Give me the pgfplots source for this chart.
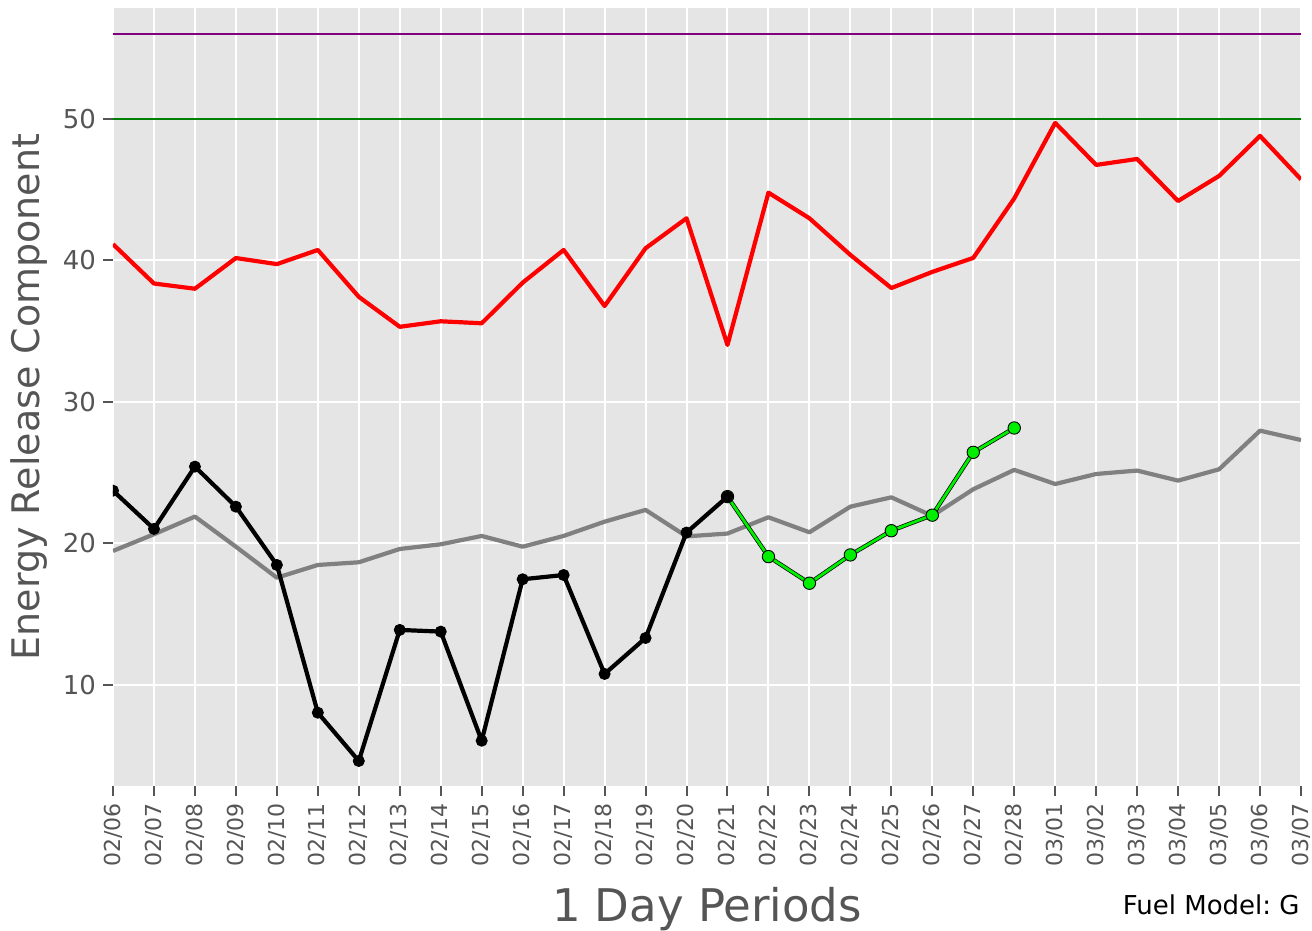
\documentclass[border=0pt]{standalone}
\usepackage{pgfplots}
\pgfplotsset{compat=1.18}
\usepackage{fontspec}
\setmainfont{DejaVu Sans}
\frenchspacing
\definecolor{bgc}{HTML}{E5E5E5}
\definecolor{txtg}{HTML}{555555}
\definecolor{lime}{HTML}{00EE00}
\definecolor{purp}{HTML}{800080}
\definecolor{dgreen}{HTML}{008000}
\definecolor{grayl}{HTML}{808080}
\begin{document}
\begin{tikzpicture}
\path[use as bounding box] (-56.5pt,-72.5pt) rectangle (599.5pt,393pt);
\begin{axis}[
  at={(0,0)}, anchor=south west,
  scale only axis, width=594pt, height=389pt,
  xmin=0, xmax=29, ymin=2.86, ymax=57.84,
  axis lines*=left, axis line style={draw=none},
  axis background/.style={fill=bgc},
  grid=major, grid style={white, line width=1pt},
  xtick={0,...,29},
  xticklabels={02/06,02/07,02/08,02/09,02/10,02/11,02/12,02/13,02/14,02/15,02/16,02/17,02/18,02/19,02/20,02/21,02/22,02/23,02/24,02/25,02/26,02/27,02/28,03/01,03/02,03/03,03/04,03/05,03/06,03/07},
  ytick={10,20,30,40,50},
  tick align=outside, major tick length=5pt,
  tick style={txtg, line width=1pt},
  x tick label style={rotate=90, anchor=east, font=\fontsize{11}{13}\selectfont, text=txtg},
  y tick label style={font=\fontsize{13}{15}\selectfont, text=txtg},
  /pgf/number format/assume math mode=true,
  xlabel={1 Day Periods},
  ylabel={Energy Release Component},
  xlabel style={at={(axis description cs:0.5,-0.1744)}, anchor=base, font=\fontsize{22.5}{27}\selectfont, text=txtg},
  ylabel style={at={(axis description cs:-0.0707,0.5)}, anchor=center, font=\fontsize{19}{23}\selectfont, text=txtg},
  clip marker paths=true,
]
% thresholds
\addplot[purp, line width=1.15pt] coordinates {(0,56) (29,56)};
\addplot[dgreen, line width=1.2pt] coordinates {(0,50) (29,50)};
% red
\addplot[red, line width=2.1pt, line join=round] coordinates {
(0,41.15) (1,38.37) (2,38.0) (3,40.17) (4,39.74) (5,40.74) (6,37.43) (7,35.31) (8,35.7) (9,35.56)
(10,38.43) (11,40.74) (12,36.78) (13,40.86) (14,42.98) (15,34.03) (16,44.79) (17,42.98) (18,40.39) (19,38.05)
(20,39.19) (21,40.18) (22,44.38) (23,49.72) (24,46.75) (25,47.17) (26,44.2) (27,45.97) (28,48.8) (29,45.73)};
% gray
\addplot[grayl, line width=2.1pt, line join=round] coordinates {
(0,19.47) (1,20.65) (2,21.9) (3,19.77) (4,17.58) (5,18.48) (6,18.67) (7,19.61) (8,19.94) (9,20.53)
(10,19.77) (11,20.53) (12,21.54) (13,22.37) (14,20.5) (15,20.7) (16,21.85) (17,20.79) (18,22.6) (19,23.26)
(20,21.95) (21,23.83) (22,25.2) (23,24.2) (24,24.91) (25,25.15) (26,24.44) (27,25.24) (28,27.97) (29,27.31)};
% green forecast (outline then fill)
\addplot[black, line width=2.1pt, line join=round] coordinates {
(15,23.31) (16,19.07) (17,17.19) (18,19.19) (19,20.9) (20,22.0) (21,26.44) (22,28.16)};
\addplot[lime, line width=1.4pt, line join=round, mark=*, mark size=3.1pt,
  mark options={fill=lime, draw=black, line width=0.45pt}] coordinates {
(15,23.31) (16,19.07) (17,17.19) (18,19.19) (19,20.9) (20,22.0) (21,26.44) (22,28.16)};
% black observed
\addplot[black, line width=2.1pt, line join=round, mark=*, mark size=2.75pt, mark options={fill=black, line width=0.5pt}] coordinates {
(0,23.73) (1,21.03) (2,25.43) (3,22.6) (4,18.48) (5,8.04) (6,4.63) (7,13.89) (8,13.77) (9,6.06)
(10,17.47) (11,17.77) (12,10.78) (13,13.32) (14,20.77) (15,23.31)};
\end{axis}
\node[anchor=base east, font=\fontsize{13}{15}\selectfont, text=black, inner sep=0pt] at (593.5pt,-64.5pt) {Fuel Model: G};
\end{tikzpicture}
\end{document}
